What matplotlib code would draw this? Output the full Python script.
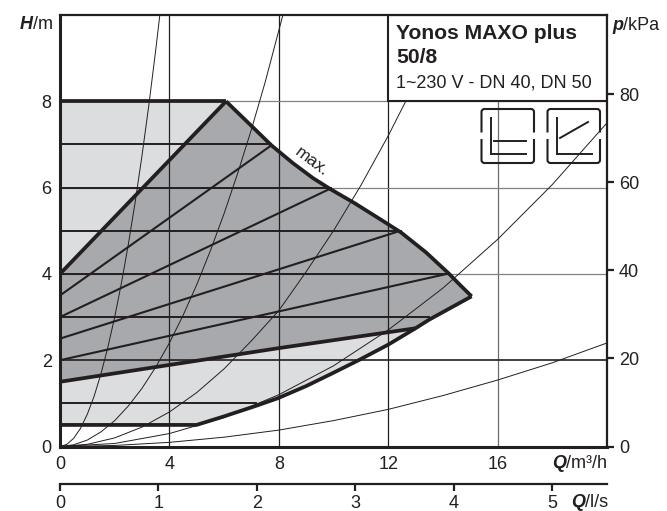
import matplotlib
matplotlib.use("Agg")
import matplotlib.pyplot as plt
from matplotlib.path import Path
from matplotlib.patches import PathPatch, Rectangle

plt.rcParams['font.family'] = ['Liberation Sans', 'DejaVu Sans']

W, H_PX = 667, 511
INK = '#231f20'

# Operating field outlines (Q in m3/h, H in m)
max_Q = [6.07, 7.0, 7.73, 8.51, 9.25, 9.9, 10.77, 11.8, 12.47, 13.38, 14.23, 14.6, 15.05]
max_H = [8.0, 7.43, 6.98, 6.57, 6.22, 5.96, 5.64, 5.23, 4.96, 4.5, 4.0, 3.76, 3.48]
lower_Q = [0, 4.99, 5.96, 7.18, 7.97, 9.0, 9.97, 10.95, 12.0, 13.0, 13.5, 15.05]
lower_H = [0.5, 0.5, 0.69, 0.945, 1.12, 1.4, 1.7, 2.01, 2.36, 2.74, 2.94, 3.48]
top_Q = [0, 6.07]
top_H = [8, 8]
min_left_Q = [0, 6.07]
min_left_H = [4, 8]
dpv_min_Q = [0, 4, 8, 13.0]
dpv_min_H = [1.5, 1.89, 2.28, 2.74]
lower_tail_Q = [13.0, 13.5, 15.05]
lower_tail_H = [2.74, 2.94, 3.48]

# Constant-pressure lines: head and the flow at which each one ends
dpc_H = [1, 3, 4, 5, 6, 7]
dpc_end_Q = [7.18, 13.5, 14.23, 12.47, 9.9, 7.73]

# Variable-pressure lines
dpv_start_H = [3.5, 3.0, 2.5, 2.0]
dpv_end_Q = [7.73, 9.9, 12.3, 14.15]
dpv_end_H = [6.98, 5.98, 4.97, 4.0]

# System curves
sys1_Q = [0, .25, .5, .75, 1, 1.25, 1.5, 1.75, 2, 2.25, 2.5, 2.75, 3, 3.25, 3.5, 3.65]
sys1_H = [0, .05, .19, .42, .75, 1.17, 1.69, 2.3, 3.0, 3.8, 4.69, 5.67, 6.75, 7.92, 9.19, 10]
sys2_Q = [0, .5, 1, 1.5, 2, 2.5, 3, 3.5, 4, 4.5, 5, 5.5, 6, 6.5, 7, 7.5, 8.15]
sys2_H = [0, .04, .15, .34, .6, .94, 1.35, 1.84, 2.4, 3.04, 3.75, 4.54, 5.4, 6.34, 7.35, 8.44, 10]
sys3_Q = [0, 1, 2, 3, 4, 5, 6, 7, 8, 9, 10, 11, 12, 13, 14.1]
sys3_H = [0, .05, .2, .45, .8, 1.25, 1.8, 2.45, 3.15, 4.05, 5.0, 6.05, 7.2, 8.45, 10]
sys4_Q = [0, 2, 4, 6, 8, 10, 12, 14, 16, 18, 20]
sys4_H = [0, .07, .3, .67, 1.2, 1.87, 2.7, 3.67, 4.8, 6.07, 7.5]
sys5_Q = [0, 2, 4, 6, 8, 10, 12, 14, 16, 18, 20]
sys5_H = [0, .024, .096, .216, .38, .6, .86, 1.18, 1.54, 1.94, 2.4]

# Grid lines and axis ticks
grid_Q = [4, 8, 12, 16]
grid_Q_colors = [INK, INK, INK, '#6d6e71']
grid_H = [2, 4, 6, 8]
grid_H_colors = [INK, '#808285', '#808285', '#808285']
grid_H_widths = [1.2, 0.9, 0.9, 0.9]
Q_m3h_ticks = [0, 4, 8, 12, 16]
Q_ls_ticks = [0, 1, 2, 3, 4, 5]
H_ticks = [0, 2, 4, 6, 8]
p_ticks = [0, 20, 40, 60, 80]

FS = 13
fig = plt.figure(figsize=(W / 100, H_PX / 100), dpi=100)
ax = fig.add_axes([60 / W, (H_PX - 446.5) / H_PX, 547 / W, 431.5 / H_PX])
ax.set_xlim(0, 20)
ax.set_ylim(0, 10)

ax.fill(top_Q[:1] + max_Q + lower_Q[::-1], top_H[:1] + max_H + lower_H[::-1], color='#dcddde', lw=0, zorder=1)
ax.fill(min_left_Q + max_Q[1:] + lower_tail_Q[::-1][1:] + dpv_min_Q[::-1],
        min_left_H + max_H[1:] + lower_tail_H[::-1][1:] + dpv_min_H[::-1],
        color='#a7a9ac', lw=0, zorder=1.1)

for q, c in zip(grid_Q, grid_Q_colors):
    ax.axvline(q, color=c, lw=0.9, zorder=2)
for h, c, w in zip(grid_H, grid_H_colors, grid_H_widths):
    ax.axhline(h, color=c, lw=w, zorder=2)

for x, y in [(sys1_Q, sys1_H), (sys2_Q, sys2_H), (sys3_Q, sys3_H), (sys4_Q, sys4_H), (sys5_Q, sys5_H)]:
    ax.plot(x, y, color=INK, lw=0.7, zorder=3)

for h, q in zip(dpc_H, dpc_end_Q):
    ax.plot([0, q], [h, h], color=INK, lw=1.4, zorder=4)
for s, q, h in zip(dpv_start_H, dpv_end_Q, dpv_end_H):
    ax.plot([0, q], [s, h], color=INK, lw=1.5, zorder=4)

thick = dict(color=INK, lw=2.7, zorder=5, solid_joinstyle='round', solid_capstyle='butt')
ax.plot(top_Q, top_H, **thick)
ax.plot(max_Q, max_H, **thick)
ax.plot(lower_Q, lower_H, **thick)
ax.plot(min_left_Q, min_left_H, **thick)
ax.plot(dpv_min_Q, dpv_min_H, **thick)

# Title box
ax.add_patch(Rectangle((12, 8), 8, 2, facecolor='white', edgecolor=INK, lw=1.5, zorder=6))
ax.text(12.29, 9.44, 'Yonos MAXO plus', fontsize=15.2, fontweight='bold', va='baseline', ha='left',
        color=INK, zorder=7)
ax.text(12.29, 8.88, '50/8', fontsize=15.2, fontweight='bold', va='baseline', ha='left',
        color=INK, zorder=7)
ax.text(12.29, 8.31, '1~230 V - DN 40, DN 50', fontsize=13, va='baseline', ha='left', color=INK, zorder=7)

ax.text(9.2, 6.59, 'max.', fontsize=12.5, rotation=-37, rotation_mode='anchor', ha='center', va='center',
        color=INK, zorder=7)

# Spines and axes
for side, lw in [('left', 2.2), ('bottom', 2.2), ('right', 1.6), ('top', 1.6)]:
    ax.spines[side].set_linewidth(lw)
    ax.spines[side].set_color(INK)
    ax.spines[side].set_zorder(8)
ax.set_xticks(Q_m3h_ticks)
ax.set_yticks(H_ticks)
ax.tick_params(axis='both', length=0, labelsize=FS, labelcolor=INK)
ax.tick_params(axis='x', pad=6.5)
ax.tick_params(axis='y', pad=6)

secy = ax.secondary_yaxis('right', functions=(lambda h: h / 0.102, lambda p: p * 0.102))
secy.set_yticks(p_ticks)
secy.tick_params(length=5, width=1.6, color=INK, labelsize=FS, labelcolor=INK, pad=3.5)
secy.spines['right'].set_visible(False)

secx = ax.secondary_xaxis(-0.0866, functions=(lambda q: q / 3.6, lambda q: q * 3.6))
secx.set_xticks(Q_ls_ticks)
secx.tick_params(length=5, width=1.6, color=INK, labelsize=FS, labelcolor=INK, pad=3)
secx.spines['bottom'].set_linewidth(1.6)
secx.spines['bottom'].set_color(INK)


def px(x, y):
    return x / W, 1 - y / H_PX


def unit_label(x, y, letter, rest, right=False):
    kw = dict(fontsize=FS, color=INK, va='baseline')
    bi = dict(fontstyle='italic', fontweight='bold')
    rend = fig.canvas.get_renderer()
    if right:
        t = fig.text(*px(x, y), rest, ha='right', **kw)
        width = t.get_window_extent(rend).width
        fig.text(*px(x - width, y), letter, ha='right', **kw, **bi)
    else:
        t = fig.text(*px(x, y), letter, ha='left', **kw, **bi)
        width = t.get_window_extent(rend).width
        fig.text(*px(x + width, y), rest, ha='left', **kw)


unit_label(20, 29, 'H', '/m')
unit_label(612, 29.5, 'p', '/kPa')
unit_label(607, 468, 'Q', '/m³/h', right=True)
unit_label(608, 507, 'Q', '/l/s', right=True)


# Control-mode icons (pixel placement on the figure)
def rounded(x0, x1, y_from, y_corner, r=3):
    v = [px(x0, y_from), px(x0, y_corner + (r if y_corner < y_from else -r)), px(x0, y_corner),
         px(x0 + r, y_corner), px(x1 - r, y_corner), px(x1, y_corner),
         px(x1, y_corner + (r if y_corner < y_from else -r)), px(x1, y_from)]
    c = [Path.MOVETO, Path.LINETO, Path.CURVE3, Path.CURVE3, Path.LINETO, Path.CURVE3, Path.CURVE3, Path.LINETO]
    fig.add_artist(PathPatch(Path(v, c), fill=False, edgecolor=INK, lw=1.5, transform=fig.transFigure, zorder=9))


def seg(xs, ys):
    pts = [px(a, b) for a, b in zip(xs, ys)]
    fig.add_artist(plt.Line2D([p[0] for p in pts], [p[1] for p in pts], color=INK, lw=1.4,
                              transform=fig.transFigure, zorder=9, solid_joinstyle='miter'))


for x0, x1 in [(481.5, 534), (547.5, 600)]:
    rounded(x0, x1, 132.5, 109)
    rounded(x0, x1, 139, 163)
seg([491, 491, 526], [118, 154, 154])
seg([494, 526], [141, 141])
seg([556.5, 556.5, 592], [118, 154, 154])
seg([560, 588], [138, 122])

fig.savefig('out.png', dpi=100)
